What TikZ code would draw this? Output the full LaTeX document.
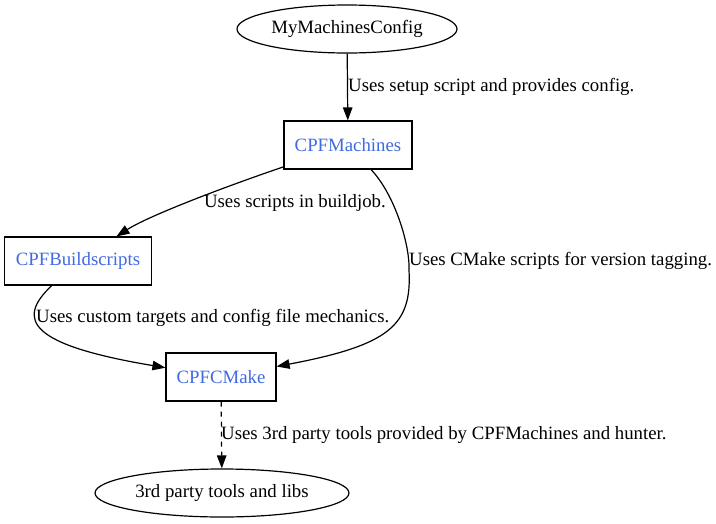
\documentclass[tikz,border=0pt]{standalone}
\usepackage{fontspec}
\setmainfont{Liberation Serif}
\usepackage{tikz}
\usetikzlibrary{arrows.meta,shapes.geometric}
\definecolor{pkgBlue}{RGB}{65,105,225}

\begin{document}
\begin{tikzpicture}[x=1pt,y=-1pt,font=\fontsize{18.8}{22}\selectfont]
 \newcommand{\nHeight}{48pt}
	\tikzset{pkg/.style = {rectangle,draw,line width=1.2pt,text=pkgBlue,minimum height=\nHeight,inner sep=0pt}}
	\tikzset{outer/.style = {ellipse,draw,line width=1.2pt,minimum height=\nHeight,inner sep=0pt}}
	\tikzset{lbl/.style = {anchor=west,inner sep=0pt}}
	\tikzstyle{edge} = [-{Triangle[length=13pt,width=9.5pt]},line width=1.2pt]
	\tikzstyle{edgeDashed} = [edge,dash pattern=on 5pt off 5pt]
	\useasboundingbox (0,0) rectangle (716,523);
	%nodes
	\node[outer,minimum width=220pt] (config) at (347,29) {MyMachinesConfig};
	\node[pkg,minimum width=128pt] (machines) at (348,145) {CPFMachines};
	\node[pkg,minimum width=147pt] (buildscripts) at (78,261) {CPFBuildscripts};
	\node[pkg,minimum width=110pt] (cmake) at (221,377) {CPFCMake};
	\node[outer,minimum width=254pt] (tools) at (222,493) {3rd party tools and libs};
	%edges
	\draw[edge] (config) to (machines);
	\draw[edge] (machines) .. controls (230,185) and (150,215) .. (buildscripts);
	\draw[edge] (machines) .. controls (395,195) and (410,245) .. (409,270)
		.. controls (412,325) and (390,345) .. (cmake);
	\draw[edge] (buildscripts) .. controls (15,320) and (30,345) .. (cmake);
	\draw[edgeDashed] (cmake) to (tools);
	%labels
	\node[lbl] (lSetup) at (348,87) {Uses setup script and provides config.};
	\node[lbl,anchor=east] (lScripts) at (386,203) {Uses scripts in buildjob.};
	\node[lbl] (lVersion) at (409,261) {Uses CMake scripts for version tagging.};
	\node[lbl] (lTargets) at (36,318) {Uses custom targets and config file mechanics.};
	\node[lbl] (lTools) at (221,435) {Uses 3rd party tools provided by CPFMachines and hunter.};
\end{tikzpicture}
\end{document}
